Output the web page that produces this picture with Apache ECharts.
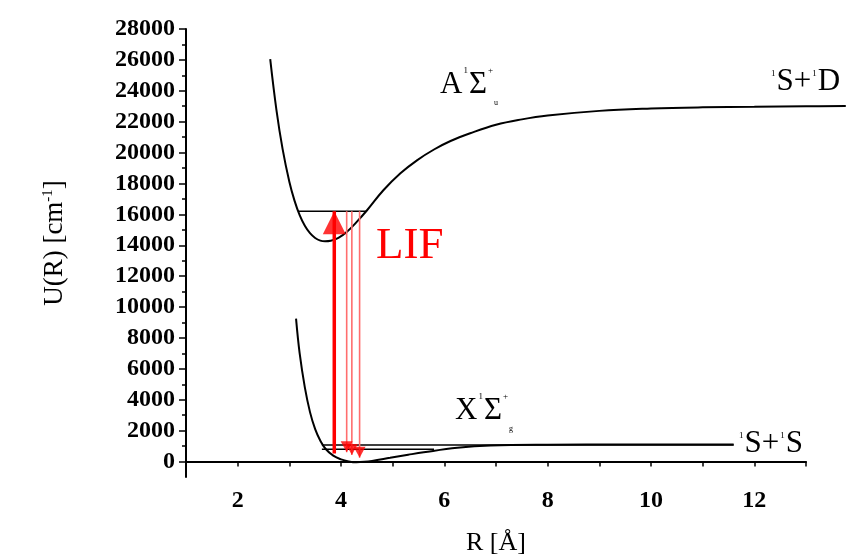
<!DOCTYPE html>
<html>
<head>
<meta charset="utf-8">
<script src="https://cdn.jsdelivr.net/npm/echarts@6/dist/echarts.min.js"></script>
<style>
  html, body { margin: 0; padding: 0; background: #fff; }
  #main { width: 851px; height: 560px; }
</style>
</head>
<body>
<div id="main"></div>
<script>
// A state potential curve (R in Å, U in cm-1)
var rA = [2.63, 2.75, 2.87, 3.0, 3.1, 3.2, 3.3, 3.4, 3.5, 3.6, 3.69, 3.8, 3.95, 4.11, 4.3, 4.5, 4.82, 5.15, 5.47, 5.8, 6.12, 6.5, 7.0, 7.5, 8.0, 9.0, 10.0, 11.0, 12.0, 13.0, 13.77];
var uA = [26050, 22770, 20220, 18110, 16890, 15950, 15260, 14780, 14470, 14300, 14258, 14290, 14480, 14860, 15500, 16250, 17560, 18660, 19500, 20200, 20750, 21250, 21800, 22150, 22400, 22700, 22850, 22930, 22970, 23000, 23010];

// X state potential curve
var rX = [3.13, 3.2, 3.3, 3.4, 3.5, 3.6, 3.7, 3.85, 4.0, 4.15, 4.3, 4.45, 4.6, 4.95, 5.3, 5.6, 6.25, 6.89, 8.0, 9.5, 11.6];
var uX = [9250, 7000, 4800, 3200, 2100, 1350, 830, 380, 140, 10, -45, -20, 40, 240, 440, 600, 890, 1040, 1090, 1100, 1100];

// vibrational levels
var levelU = [16200, 1070, 800];
var levelFrom = [3.17, 3.63, 3.63];
var levelTo = [4.50, 11.6, 5.8];

// excitation (pump) and fluorescence (LIF) transitions
var pumpR = 3.87, pumpFrom = 520, pumpTo = 16200;
var lifR = [4.11, 4.21, 4.36];
var lifFrom = 16200;
var lifTo = [600, 430, 240];

// ticks
var xTicks = [1, 2, 3, 4, 5, 6, 7, 8, 9, 10, 11, 12, 13];
var xLabels = [2, 4, 6, 8, 10, 12];
var yLabels = [0, 2000, 4000, 6000, 8000, 10000, 12000, 14000, 16000, 18000, 20000, 22000, 24000, 26000, 28000];
var yMinor = yLabels.slice(0, -1).map(function (v) { return v + 1000; });

var serif = '"Liberation Serif", "Times New Roman", serif';

function pairs(xs, ys) {
  return xs.map(function (x, i) { return [x, ys[i]]; });
}

var chart = echarts.init(document.getElementById('main'));

var series = [
  {
    // A state runs past the end of the axis, so it lives on a wider hidden grid
    type: 'line', data: pairs(rA, uA), smooth: 0.4, showSymbol: false,
    xAxisIndex: 1, yAxisIndex: 2,
    lineStyle: { color: '#000', width: 2 }, z: 3
  },
  {
    type: 'line', data: pairs(rX, uX), smooth: 0.4, showSymbol: false,
    lineStyle: { color: '#000', width: 2 }, z: 3
  }
];

levelU.forEach(function (u, i) {
  series.push({
    type: 'line', data: [[levelFrom[i], u], [levelTo[i], u]], showSymbol: false,
    lineStyle: { color: '#000', width: 1.5 }, z: 3
  });
});

lifR.forEach(function (r, i) {
  series.push({
    type: 'line', data: [[r, lifFrom], [r, lifTo[i]]], showSymbol: false,
    lineStyle: { color: '#ff6e6e', width: 1.6 }, z: 4
  });
});

series.push({
  type: 'line', data: [[pumpR, pumpFrom], [pumpR, pumpTo]], showSymbol: false,
  lineStyle: { color: '#ff0000', width: 3.5 }, z: 5
});
series.push({
  type: 'scatter', data: [[pumpR, pumpTo]], symbol: 'triangle',
  symbolSize: [23, 23], symbolOffset: [0, 11.5],
  itemStyle: { color: '#ff0000' }, z: 6
});
series.push({
  type: 'scatter', data: pairs(lifR, lifTo), symbol: 'triangle', symbolRotate: 180,
  symbolSize: [12, 11], symbolOffset: [0, -5.5],
  itemStyle: { color: '#ff0000' }, z: 6
});

var plain = function (v) { return String(v); };
var supStyle = { fontFamily: serif, fontSize: 9, fill: '#000', verticalAlign: 'top', padding: [3, 1, 0, 1] };
var bigStyle = { fontFamily: serif, fontSize: 31, fill: '#000' };
var subStyle = { fontFamily: serif, fontSize: 8, fill: '#000', verticalAlign: 'bottom', lineHeight: 44 };

var option = {
  animation: false,
  backgroundColor: '#fff',
  grid: [
    { left: 186, right: 45, top: 29, bottom: 83, containLabel: false, outerBoundsMode: 'none' },
    { left: 186, right: 5, top: 29, bottom: 83, containLabel: false, outerBoundsMode: 'none' }
  ],
  xAxis: [
    {
      type: 'value', min: 1, max: 13, gridIndex: 0,
      name: 'R [Å]', nameLocation: 'middle', nameGap: 53,
      nameTextStyle: { fontFamily: serif, fontSize: 26, color: '#000' },
      axisLine: { lineStyle: { color: '#000', width: 2 } },
      axisTick: { show: true, length: 5, customValues: xTicks, lineStyle: { color: '#000', width: 1.5 } },
      axisLabel: { customValues: xLabels, formatter: plain, margin: 12, fontFamily: serif, fontSize: 24, fontWeight: 'bold', color: '#000' },
      splitLine: { show: false }
    },
    {
      type: 'value', min: 1, max: 13.774, gridIndex: 1, show: false
    }
  ],
  yAxis: [
    {
      type: 'value', min: -1000, max: 28000, position: 'left', gridIndex: 0,
      name: 'U(R) [cm{sup|-1}]', nameLocation: 'middle', nameGap: 118, nameRotate: 90,
      nameTextStyle: {
        fontFamily: serif, fontSize: 27, color: '#000', padding: [0, 0, 0, 20],
        rich: { sup: { fontFamily: serif, fontSize: 15, color: '#000', verticalAlign: 'top' } }
      },
      axisLine: { lineStyle: { color: '#000', width: 2 } },
      axisTick: { show: true, length: 7, customValues: yLabels, lineStyle: { color: '#000', width: 1.5 } },
      axisLabel: { customValues: yLabels, formatter: plain, margin: 11, fontFamily: serif, fontSize: 24, fontWeight: 'bold', color: '#000' },
      splitLine: { show: false }
    },
    {
      type: 'value', min: -1000, max: 28000, position: 'left', offset: 0, gridIndex: 0,
      axisLine: { show: false },
      axisTick: { show: true, length: 4, customValues: yMinor, lineStyle: { color: '#000', width: 1.5 } },
      axisLabel: { show: false },
      splitLine: { show: false }
    },
    {
      type: 'value', min: -1000, max: 28000, gridIndex: 1, show: false
    }
  ],
  series: series,
  graphic: [
    {
      type: 'text', left: 376, top: 224,
      style: { text: 'LIF', font: '45px ' + serif, fill: '#ff0000' }
    },
    {
      type: 'text', left: 440, top: 66,
      style: {
        text: '{b|A}{p|1}{b|Σ}{p|+}{q|u}',
        rich: { b: bigStyle, p: supStyle, q: subStyle }
      }
    },
    {
      type: 'text', left: 771, top: 66,
      style: {
        text: '{p|1}{b|S+}{p|1}{b|D}',
        rich: { b: bigStyle, p: supStyle }
      }
    },
    {
      type: 'text', left: 455, top: 392,
      style: {
        text: '{b|X}{p|1}{b|Σ}{p|+}{q|g}',
        rich: { b: bigStyle, p: supStyle, q: subStyle }
      }
    },
    {
      type: 'text', left: 739, top: 428,
      style: {
        text: '{p|1}{b|S+}{p|1}{b|S}',
        rich: { b: bigStyle, p: supStyle }
      }
    }
  ]
};

chart.setOption(option);
</script>
</body>
</html>
